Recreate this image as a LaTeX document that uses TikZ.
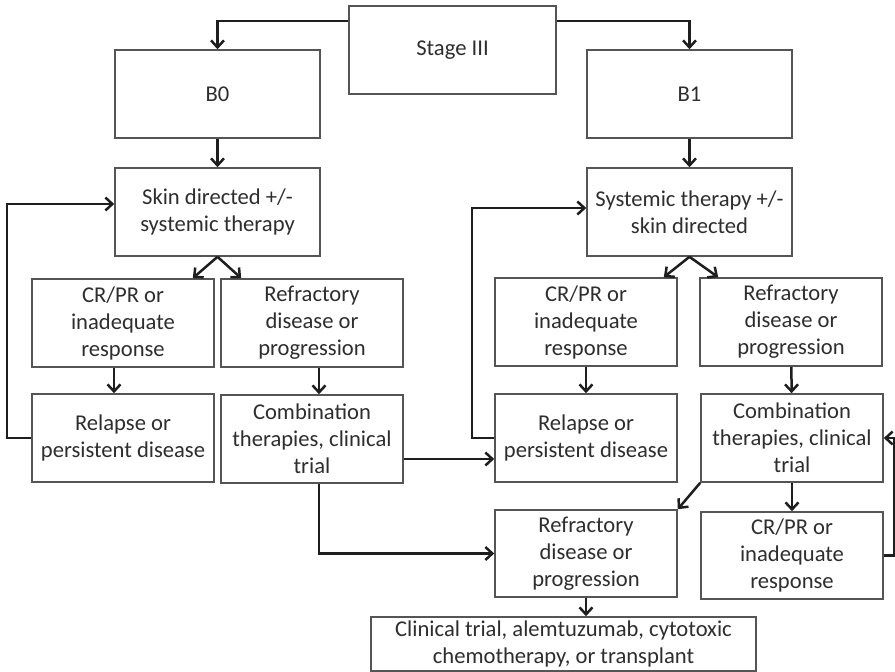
\documentclass[tikz,border=0pt]{standalone}
\usepackage{fontspec}
\setmainfont{Carlito}
\usetikzlibrary{arrows.meta, positioning, calc}
\definecolor{cline}{HTML}{1E1E1E}
\definecolor{cframe}{HTML}{555555}
\definecolor{ctext}{HTML}{2E2E2E}
\tikzset{
  every picture/.style={font=\fontsize{22.6}{27}\selectfont, line width=1.6pt},
  box/.style={draw=cframe, fill=white, text=ctext, align=center, inner sep=2pt, minimum height=88pt},
  arrow/.style={-{Straight Barb[length=7pt, width=13pt]}, draw=cline, line width=2.5pt},
}
\begin{document}
\begin{tikzpicture}[x=1pt, y=-1pt, wb/.style={box, minimum width=205pt}, nb/.style={box, minimum width=182pt}]
  \useasboundingbox (0,0) rectangle (895,672);
  \node[box, minimum width=207pt] (stage) at (452.5,50) {Stage III};
  \node[wb] (b0) at (217.5,94) {B0};
  \node[wb] (b1) at (689.5,94) {B1};
  \node[wb] (skin) at (217.5,212) {Skin directed +/-\\systemic therapy};
  \node[wb] (sys) at (689.5,212) {Systemic therapy +/-\\skin directed};
  \node[nb] (crL) at (123,323) {CR/PR or\\inadequate\\response};
  \node[nb] (refL) at (312,323) {Refractory\\disease or\\progression};
  \node[nb] (crR) at (586,322) {CR/PR or\\inadequate\\response};
  \node[nb] (refR) at (791,322) {Refractory\\disease or\\progression};
  \node[nb] (relL) at (123,438) {Relapse or\\persistent disease};
  \node[nb] (combL) at (312,439) {Combination\\therapies, clinical\\trial};
  \node[nb] (relR) at (586,438) {Relapse or\\persistent disease};
  \node[nb] (combR) at (792,438) {Combination\\therapies, clinical\\trial};
  \node[nb, minimum height=87pt] (refB) at (586,553.5) {Refractory\\disease or\\progression};
  \node[nb, minimum height=87pt] (crB) at (792,555.5) {CR/PR or\\inadequate\\response};
  \node[box, minimum width=385pt, minimum height=54pt] (clin) at (563.5,644) {Clinical trial, alemtuzumab, cytotoxic\\chemotherapy, or transplant};
  \draw[arrow] ([yshift=29pt]stage.west) -| (b0.north); \draw[arrow] ([yshift=29pt]stage.east) -| (b1.north);
  \draw[arrow] (b0) -- (skin); \draw[arrow] (b1) -- (sys);
  \draw[arrow] (skin.south) -- ([xshift=-22pt]crL.north east); \draw[arrow] (skin.south) -- ([xshift=21pt]refL.north west);
  \draw[arrow] (sys.south) -- ([xshift=-14pt]crR.north east); \draw[arrow] (sys.south) -- ([xshift=19pt]refR.north west);
  \draw[arrow] ([xshift=-9pt]crL.south) -- ([xshift=-9pt]relL.north); \draw[arrow] ([xshift=7pt]refL.south) -- ([xshift=7pt]combL.north);
  \draw[arrow] (crR) -- (relR); \draw[arrow] (refR) -- (combR);
  \draw[arrow] (relL.west) -- ++(-24,0) |- ([yshift=8pt]skin.west);
  \draw[arrow] (relR.west) -- ++(-22,0) |- ([yshift=4pt]sys.west);
  \draw[arrow] ([yshift=-20pt]combL.east) -- ([yshift=-20pt]combL.east -| relR.west);
  \draw[arrow] ([xshift=7pt]combL.south) |- (refB.west);
  \draw[arrow] (combR.south west) -- (refB.north east); \draw[arrow] (combR) -- (crB);
  \draw[arrow] (crB.east) -- ++(10,0) |- (combR.east);
  \draw[arrow] (refB.south) -- (refB.south |- clin.north);
\end{tikzpicture}
\end{document}
